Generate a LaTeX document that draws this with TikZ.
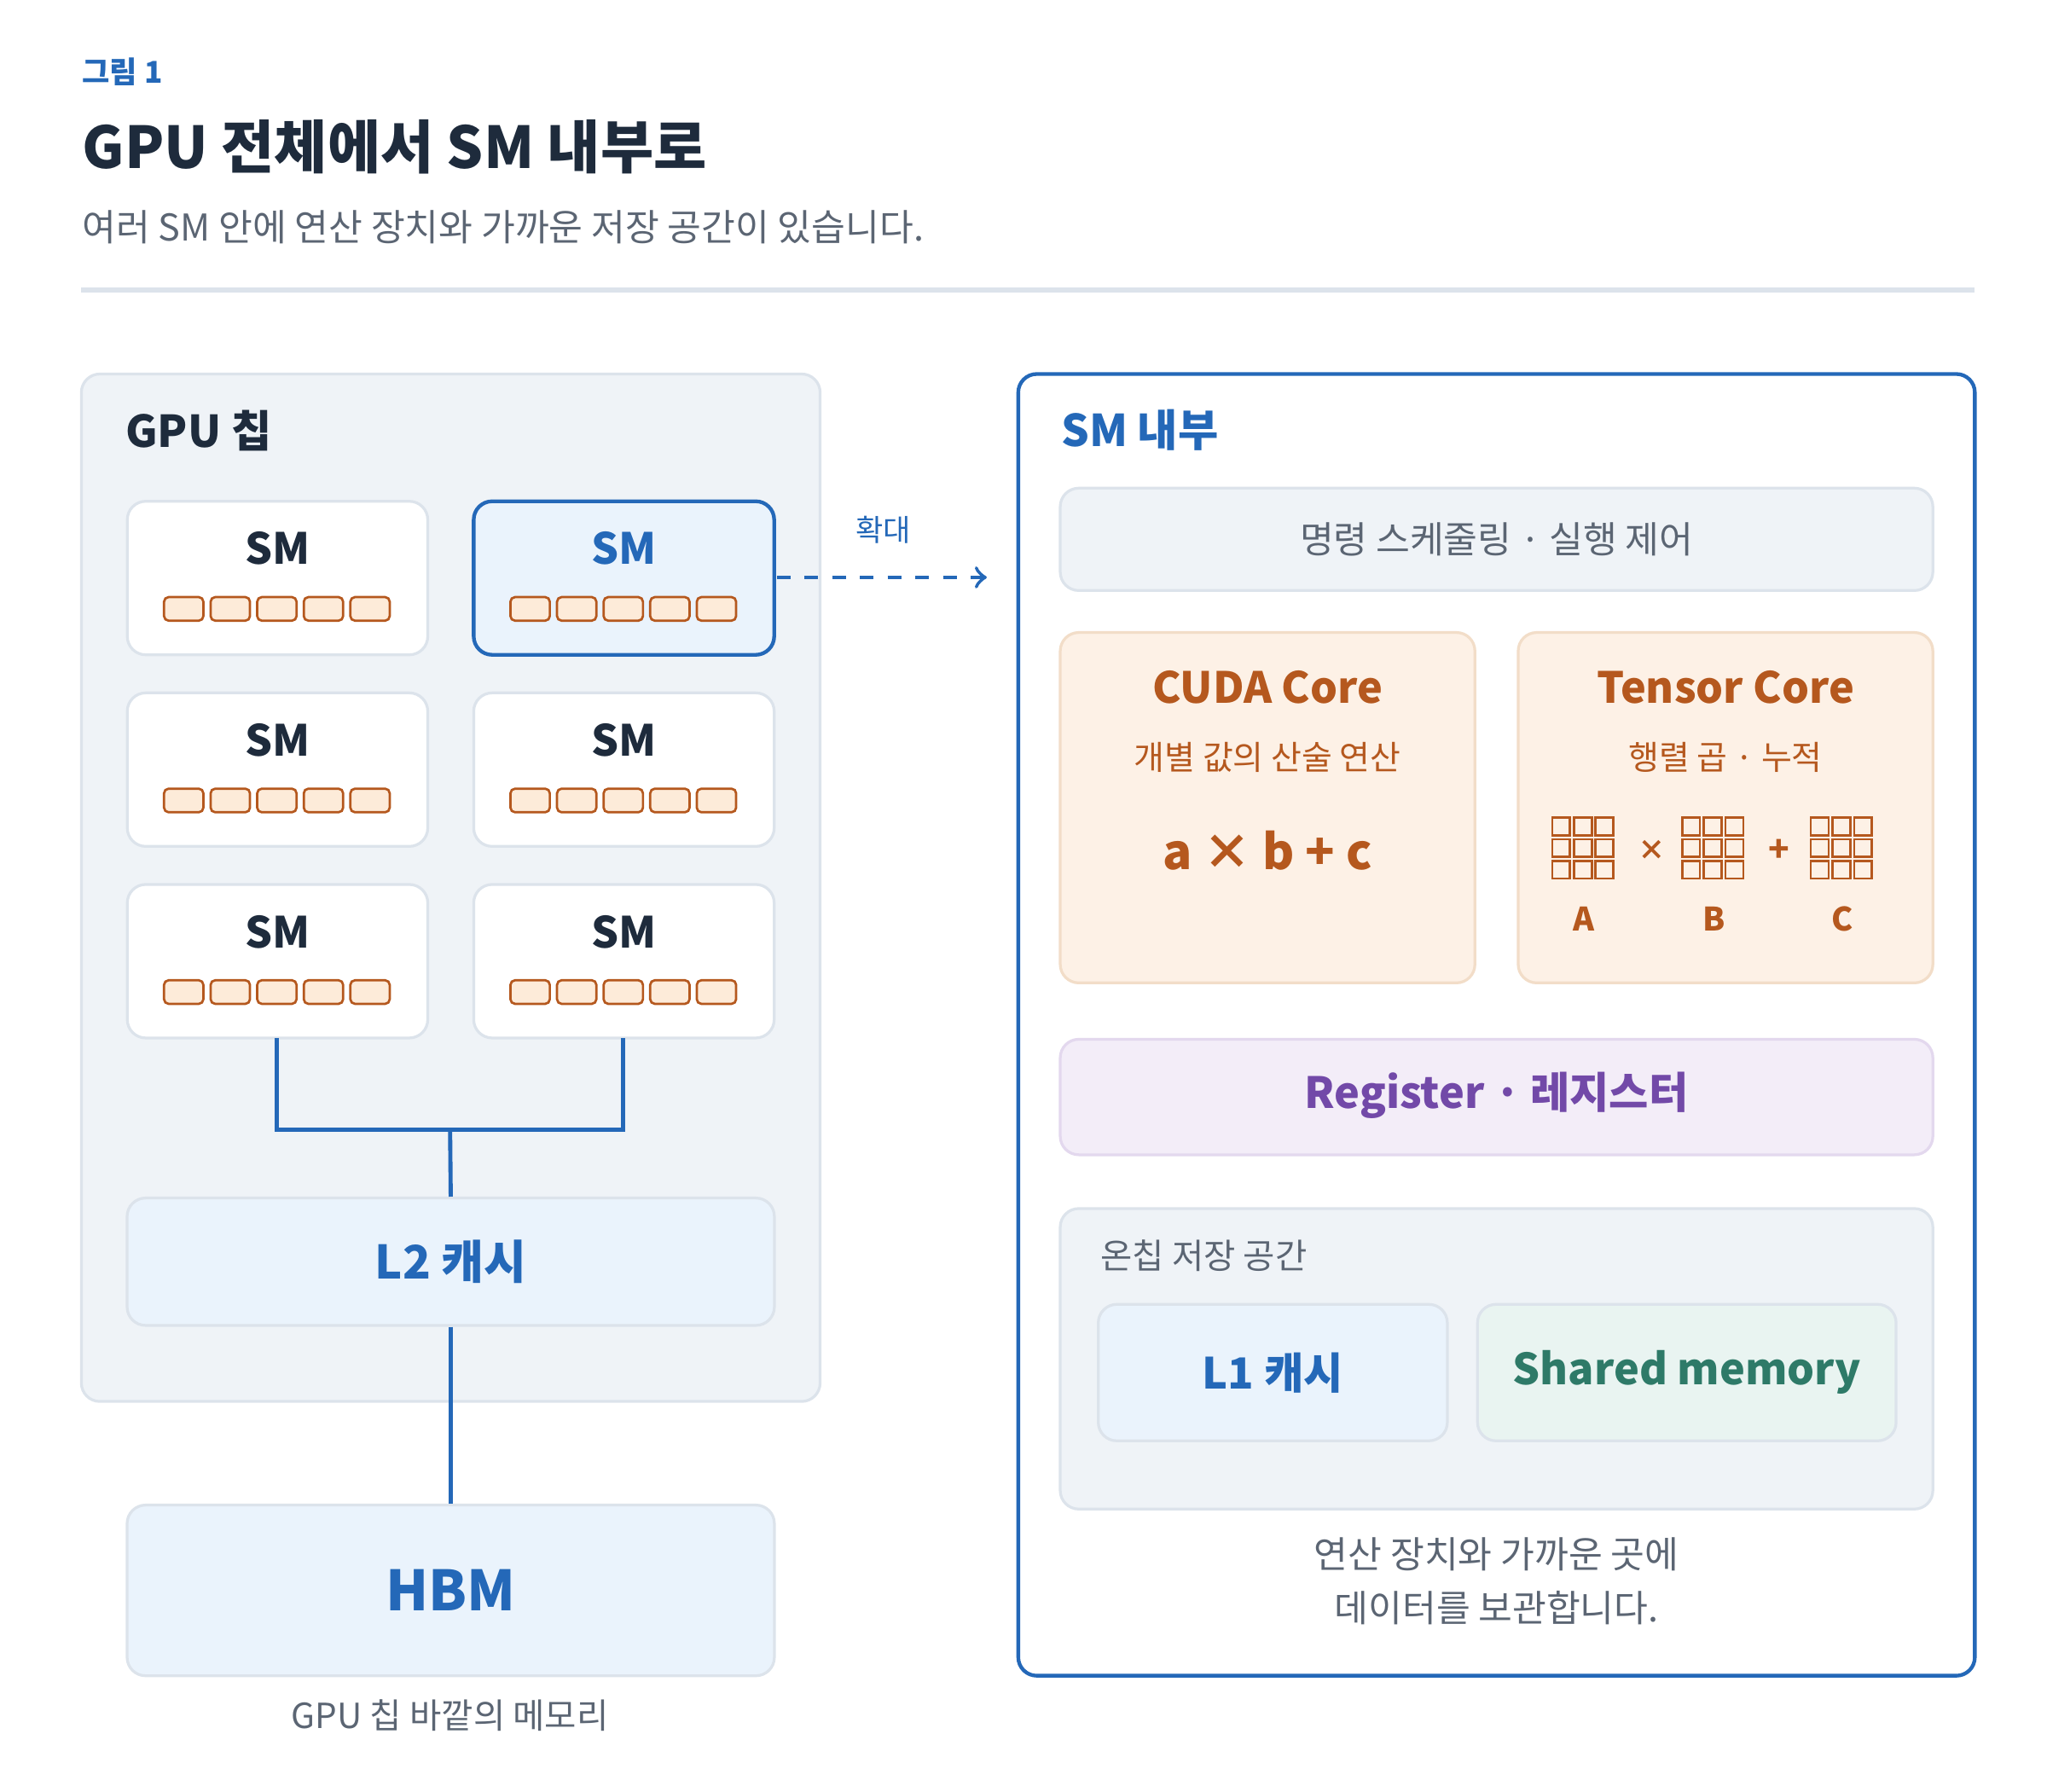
\documentclass[tikz,border=0pt]{standalone}
\usepackage{fontspec}
\setmainfont{Noto Sans CJK KR}
\usetikzlibrary{positioning}
\definecolor{ink}{HTML}{1E2B3C}
\definecolor{grayt}{HTML}{5B6573}
\definecolor{blu}{HTML}{2468B8}
\definecolor{panel}{HTML}{EFF3F7}
\definecolor{edge}{HTML}{DCE3EB}
\definecolor{lblue}{HTML}{EAF3FC}
\definecolor{orng}{HTML}{B5581E}
\definecolor{lorng}{HTML}{FDF1E6}
\definecolor{eorng}{HTML}{F2DDC8}
\definecolor{cell}{HTML}{FDEBD9}
\definecolor{purp}{HTML}{7249A8}
\definecolor{lpurp}{HTML}{F3EDF8}
\definecolor{epurp}{HTML}{E3D8EE}
\definecolor{teal}{HTML}{2E7A68}
\definecolor{lteal}{HTML}{E9F4F1}
\tikzset{
  box/.style={draw=edge, line width=0.6pt, rounded corners=4pt},
  smbox/.style={box, fill=white},
  link/.style={draw=blu, line width=0.9pt},
  txt/.style={inner sep=0pt, font=\fontsize{7.2}{9}\selectfont},
  head/.style={inner sep=0pt, font=\bfseries\fontsize{9.3}{11}\selectfont},
  cellbox/.style={draw=orng, fill=cell, line width=0.5pt, rounded corners=1pt},
}
\newcommand{\smcells}[2]{%
  \foreach \k in {0,...,4}
    \draw[cellbox] (#1+\k*35.5,#2) rectangle ++(30,18);}
\newcommand{\matgrid}[3]{%
  \foreach \i in {0,1,2} \foreach \j in {0,1,2}
    \draw[draw=orng, line width=0.5pt] (#1+\i*16.5,#2+\j*16.5) rectangle ++(13.5,13.5);
  \node[txt, text=orng, font=\bfseries\fontsize{7}{8}\selectfont] at (#1+24,#2+77) {#3};}
\begin{document}
\begin{tikzpicture}[x=0.01cm, y=-0.01cm]
\useasboundingbox (0,0) rectangle (1560,1365);

% header
\node[txt, anchor=west, text=blu, font=\bfseries\fontsize{6.5}{8}\selectfont] (fig) at (62,55) {그림 1};
\node[txt, anchor=west, text=ink, font=\bfseries\fontsize{12.5}{14}\selectfont] (title) at (62,112) {GPU 전체에서 SM 내부로};
\node[txt, anchor=west, text=grayt, font=\fontsize{8}{10}\selectfont] (sub) at (62,173) {여러 SM 안에 연산 장치와 가까운 저장 공간이 있습니다.};
\draw[edge, line width=1pt] (62,221) -- (1505,221);

% left panel
\draw[box, fill=panel] (62,285) rectangle (625,1068);
\node[txt, anchor=west, text=ink, font=\bfseries\fontsize{9.5}{11}\selectfont] (gpu) at (95,328) {GPU 칩};
\foreach \x in {97,361} \foreach \y in {382,528,674} {
  \draw[smbox] (\x,\y) rectangle ++(229,117);
  \node[head, text=ink] at (\x+114.5,\y+36) {SM};
  \smcells{\x+28}{\y+73}
}
\draw[box, draw=blu, fill=lblue, line width=0.8pt] (361,382) rectangle ++(229,117);
\node[head, text=blu] (smsel) at (475.5,418) {SM};
\smcells{389}{455}

\coordinate (smA) at (211,791);
\coordinate (smB) at (475,791);
\coordinate (jn) at (343,861);
\draw[link] (smA) |- (jn) -| (smB);
\node[box, fill=lblue, minimum width=4.93cm, minimum height=0.97cm] (l2) at (343.5,961.5) {};
\node[head, text=blu, font=\bfseries\fontsize{10}{12}\selectfont] at (l2) {L2 캐시};
\draw[link] (jn) -- (l2.north);
\node[box, fill=lblue, minimum width=4.93cm, minimum height=1.3cm] (hbm) at (343.5,1212) {};
\node[head, text=blu, font=\bfseries\fontsize{12}{14}\selectfont] at (hbm) {HBM};
\draw[link] (l2.south) -- (hbm.north);
\node[txt, text=grayt, font=\fontsize{7.5}{9}\selectfont] (hbmcap) at (343,1307) {GPU 칩 바깥의 메모리};

% zoom arrow
\coordinate (zs) at (592,440);
\coordinate (ze) at (752,440);
\draw[blu, line width=0.8pt, dashed, ->] (zs) -- (ze);
\node[txt, text=blu, font=\fontsize{6.5}{8}\selectfont] (zl) at (673,404) {확대};

% right panel
\draw[box, draw=blu, fill=white, line width=0.8pt] (776,285) rectangle (1505,1277);
\node[txt, anchor=west, text=blu, font=\bfseries\fontsize{9.5}{11}\selectfont] (smin) at (808,328) {SM 내부};
\draw[box, fill=panel] (808,372) rectangle (1473,450);
\node[txt, text=grayt, font=\fontsize{8}{10}\selectfont] (ctrl) at (1140.5,411) {명령 스케줄링 · 실행 제어};

\draw[box, draw=eorng, fill=lorng] (808,482) rectangle (1124,749);
\node[head, text=orng] (cuda) at (966,524) {CUDA Core};
\node[txt, text=orng] (cudad) at (966,577) {개별 값의 산술 연산};
\node[txt, text=orng, font=\bfseries\fontsize{10.5}{12}\selectfont] (fma) at (966,648) {a × b + c};

\draw[box, draw=eorng, fill=lorng] (1157,482) rectangle (1473,749);
\node[head, text=orng] (tens) at (1315,524) {Tensor Core};
\node[txt, text=orng] (tensd) at (1315,577) {행렬 곱 · 누적};
\matgrid{1183}{623}{A}
\matgrid{1282}{623}{B}
\matgrid{1380}{623}{C}
\node[txt, text=orng, font=\bfseries\fontsize{6}{8}\selectfont] at (1259,648) {×};
\node[txt, text=orng, font=\bfseries\fontsize{7.5}{8}\selectfont] at (1356,648) {+};

\draw[box, draw=epurp, fill=lpurp] (808,792) rectangle (1473,880);
\node[head, text=purp] (reg) at (1140.5,835) {Register · 레지스터};

\draw[box, fill=panel] (808,921) rectangle (1473,1150);
\node[txt, anchor=west, text=grayt, font=\fontsize{7.5}{9}\selectfont] (onchip) at (838,957) {온칩 저장 공간};
\draw[box, fill=lblue] (837,994) rectangle (1103,1098);
\node[head, text=blu] (l1) at (970,1046) {L1 캐시};
\draw[box, fill=lteal] (1126,994) rectangle (1445,1098);
\node[head, text=teal] (shm) at (1285.5,1046) {Shared memory};
\node[txt, text=grayt, font=\fontsize{8}{11.5}\selectfont, align=center] (cap) at (1140.5,1205) {연산 장치와 가까운 곳에\\데이터를 보관합니다.};
\end{tikzpicture}
\end{document}
